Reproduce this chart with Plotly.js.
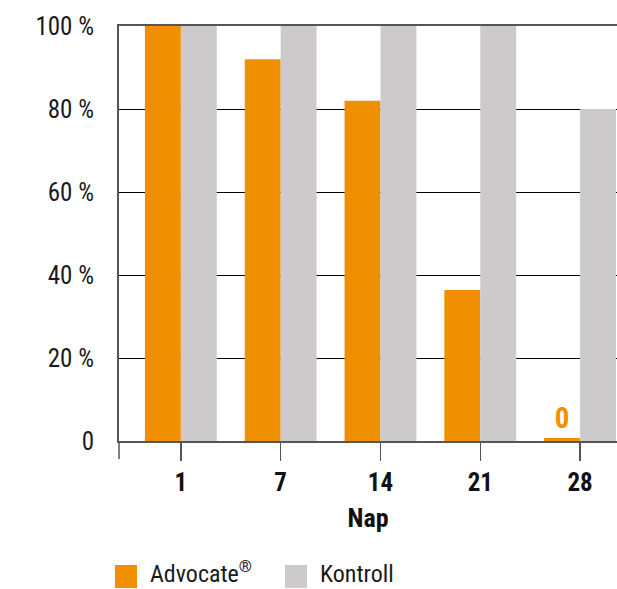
<!DOCTYPE html>
<html>
<head>
<meta charset="utf-8">
<script src="https://cdn.plot.ly/plotly-3.0.1.min.js"></script>
<style>html,body{margin:0;padding:0;background:#fff;}#chart{width:617px;height:589px;}</style>
</head>
<body>
<div id="chart"></div>
<script>
const days = ['1', '7', '14', '21', '28'];
const advocate = [100, 92, 82, 36.4, 0.7];
const kontroll = [100, 100, 100, 100, 80];
const advocateLabels = ['', '', '', '', '0'];
const yTickVals = [0, 20, 40, 60, 80, 100];
const yTickText = ['0', '20 %', '40 %', '60 %', '80 %', '100 %'];
const seriesNames = ['Advocate<sup>®</sup>', 'Kontroll'];

const FONT = '"Roboto Condensed", "Liberation Sans Narrow", "Arial Narrow", Roboto, sans-serif';
const ORANGE = '#F08F00';
const GRAY = '#CCCACB';

const traces = [
  {type: 'bar', name: seriesNames[0], x: days, y: advocate, marker: {color: ORANGE},
   text: advocateLabels, textposition: 'outside', cliponaxis: false,
   textfont: {family: FONT, size: 29, color: ORANGE, weight: 700}, hoverinfo: 'x+y'},
  {type: 'bar', name: seriesNames[1], x: days, y: kontroll, marker: {color: GRAY}, hoverinfo: 'x+y'}
];

const legendItems = [
  {name: seriesNames[0], color: ORANGE, sx0: 115, tx: 149},
  {name: seriesNames[1], color: GRAY, sx0: 285, tx: 319}
];
const L = 119, W = 498, T = 26, H = 415;
const px = v => (v - L) / W;
const py = v => (T + H - v) / H;

const shapes = legendItems.map(it => ({type: 'rect', xref: 'paper', yref: 'paper',
  x0: px(it.sx0), x1: px(it.sx0 + 22), y0: py(565), y1: py(588),
  fillcolor: it.color, line: {width: 0}}));
shapes.push({type: 'line', xref: 'paper', yref: 'paper', x0: 0, x1: 0, y0: 0, y1: py(459),
  line: {color: '#555', width: 1.5}});

const annotations = legendItems.map(it => ({xref: 'paper', yref: 'paper', x: px(it.tx), y: py(588.5),
  xanchor: 'left', yanchor: 'bottom', borderpad: 0, text: it.name, showarrow: false,
  font: {family: FONT, size: 24, color: '#1a1a1a'}}));

const layout = {
  width: 617, height: 589,
  margin: {l: L, r: 0, t: T, b: 589 - T - H},
  paper_bgcolor: '#fff', plot_bgcolor: '#fff',
  barmode: 'group', bargap: 0.28, bargroupgap: 0,
  showlegend: false,
  font: {family: FONT, color: '#1a1a1a'},
  xaxis: {type: 'category', range: [-0.62, 4.37], showline: true, linecolor: '#555', linewidth: 2,
    mirror: true, ticks: 'outside', ticklen: 18, tickwidth: 1.5, tickcolor: '#555',
    showgrid: false, zeroline: false,
    tickfont: {family: FONT, size: 25, color: '#111', weight: 700},
    title: {text: 'Nap', font: {family: FONT, size: 26, color: '#111', weight: 700}, standoff: 13}},
  yaxis: {range: [0, 100], tickvals: yTickVals, ticktext: yTickText, showline: true, linecolor: '#555', linewidth: 2,
    ticks: '', showgrid: true, gridcolor: '#000', gridwidth: 1, zeroline: false,
    ticklabelstandoff: 18, tickfont: {family: FONT, size: 25, color: '#1a1a1a'}},
  shapes: shapes, annotations: annotations
};

Plotly.newPlot('chart', traces, layout, {displayModeBar: false, staticPlot: true});
</script>
</body>
</html>
